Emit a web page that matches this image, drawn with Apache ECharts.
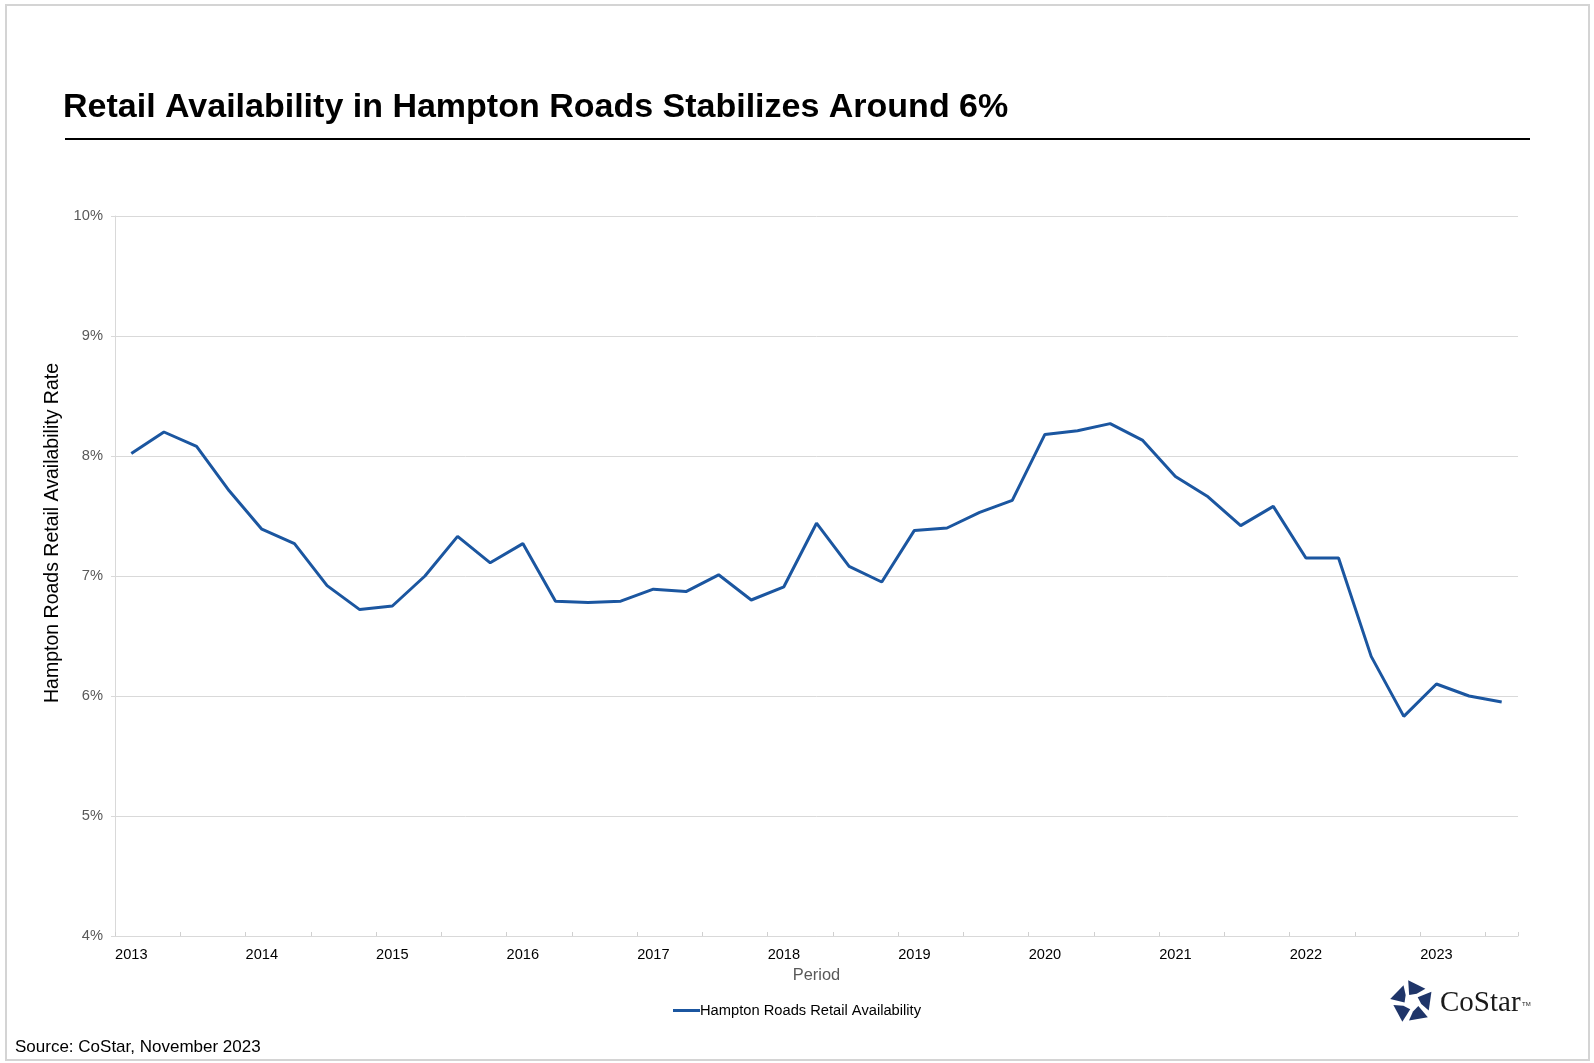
<!DOCTYPE html>
<html><head><meta charset="utf-8">
<script src="https://cdn.jsdelivr.net/npm/echarts@6/dist/echarts.min.js"></script>
<style>html,body{margin:0;padding:0;background:#fff}#c{width:1594px;height:1063px}</style>
</head><body><div id="c"></div>
<script>
const years = ['2013','2014','2015','2016','2017','2018','2019','2020','2021','2022','2023'];
const quarters = ['Q1','Q2','Q3','Q4'];
const categories = [];
years.forEach(y => quarters.forEach(q => categories.push(y + ' ' + q)));
categories.length = 43; // 2013 Q1 .. 2023 Q3
const availability = [
  8.02, 8.20, 8.08, 7.71,
  7.39, 7.27, 6.92, 6.72,
  6.75, 7.00, 7.33, 7.11,
  7.27, 6.79, 6.78, 6.79,
  6.89, 6.87, 7.01, 6.80,
  6.91, 7.44, 7.08, 6.95,
  7.38, 7.40, 7.53, 7.63,
  8.18, 8.21, 8.27, 8.13,
  7.83, 7.66, 7.42, 7.58,
  7.15, 7.15, 6.33, 5.83,
  6.10, 6.00, 5.95
];
const seriesName = 'Hampton Roads Retail Availability';
const FONT = 'Liberation Sans, Arial, sans-serif';

const chart = echarts.init(document.getElementById('c'), null, {renderer: 'canvas'});

// CoStar logo pieces (decoration)
const cx = 1412, cy = 1002, R = 22, r = 9;
const pt = (ang, rad) => [cx + rad * Math.cos(ang), cy + rad * Math.sin(ang)];
const lerp = (p, q, t) => [p[0] + (q[0] - p[0]) * t, p[1] + (q[1] - p[1]) * t];
const V = [], I = [];
for (let k = 0; k < 5; k++) {
  const a = (-100 + 72 * k) * Math.PI / 180;
  V.push(pt(a, R));
  I.push(pt(a + 36 * Math.PI / 180, r));
}
const logoPieces = [];
for (let k = 0; k < 5; k++) {
  const n = (k + 1) % 5, p = (k + 4) % 5;
  logoPieces.push({
    type: 'polygon',
    shape: {points: [V[k], lerp(V[k], V[n], 0.74), lerp(I[k], V[n], 0.05), lerp(I[p], I[k], 0.35)]},
    style: {fill: '#1f3569'}
  });
}

chart.setOption({
  animation: false,
  backgroundColor: '#ffffff',
  title: {
    text: 'Retail Availability in Hampton Roads Stabilizes Around 6%',
    left: 58, top: 86,
    textStyle: {fontFamily: FONT, fontSize: 34, fontWeight: 'bold', color: '#000'}
  },
  grid: {left: 115, right: 76, top: 216, bottom: 127},
  legend: {
    top: 998, left: 'center',
    itemWidth: 27, itemHeight: 3, itemGap: 0,
    icon: 'rect',
    textStyle: {fontFamily: FONT, fontSize: 14.7, color: '#000', padding: [0, 0, 0, -5]},
    data: [seriesName]
  },
  xAxis: {
    type: 'category',
    data: categories,
    boundaryGap: true,
    name: 'Period',
    nameLocation: 'middle',
    nameGap: 31.5,
    nameTextStyle: {fontFamily: FONT, fontSize: 16.4, color: '#595959'},
    axisLine: {lineStyle: {color: '#d9d9d9', width: 1}},
    axisTick: {show: true, inside: true, length: 4, interval: 1, lineStyle: {color: '#d0d0d0'}},
    axisLabel: {
      interval: 3, margin: 11,
      formatter: v => v.slice(0, 4),
      fontFamily: FONT, fontSize: 14.6, color: '#000'
    }
  },
  yAxis: {
    type: 'value',
    min: 4, max: 10, interval: 1,
    axisLine: {show: true, lineStyle: {color: '#d9d9d9'}},
    axisTick: {show: true, length: 4, lineStyle: {color: '#d9d9d9'}},
    splitLine: {lineStyle: {color: '#d9d9d9', width: 1}},
    axisLabel: {
      formatter: v => v + '%', margin: 12,
      fontFamily: FONT, fontSize: 14.7, color: '#595959'
    }
  },
  series: [{
    name: seriesName,
    type: 'line',
    data: availability,
    showSymbol: false,
    symbol: 'none',
    lineStyle: {color: '#1b56a0', width: 3},
    itemStyle: {color: '#1b56a0'}
  }],
  graphic: [
    {type: 'rect', shape: {x: 6, y: 5, width: 1583, height: 1055}, style: {fill: 'none', stroke: '#d4d4d4', lineWidth: 2}, silent: true},
    {type: 'line', shape: {x1: 65, y1: 139, x2: 1530, y2: 139}, style: {stroke: '#000', lineWidth: 2}},
    {type: 'text', x: 53, y: 533, rotation: Math.PI / 2,
      style: {text: 'Hampton Roads Retail Availability Rate', font: '19.5px "Liberation Sans", Arial, sans-serif', fill: '#000', textAlign: 'center', textVerticalAlign: 'middle'}},
    {type: 'text', x: 15, y: 1047, style: {text: 'Source: CoStar, November 2023', font: '17px "Liberation Sans", Arial, sans-serif', fill: '#000', textVerticalAlign: 'middle'}},
    {type: 'group', children: logoPieces},
    {type: 'text', x: 1440, y: 1018, style: {text: 'CoStar', font: '29px "Liberation Serif", "DejaVu Serif", serif', fill: '#1a1a1a', textVerticalAlign: 'bottom'}},
    {type: 'text', x: 1522, y: 1001, style: {text: 'TM', font: '6px "Liberation Sans", Arial, sans-serif', fill: '#1a1a1a'}}
  ]
});
</script>
</body></html>
